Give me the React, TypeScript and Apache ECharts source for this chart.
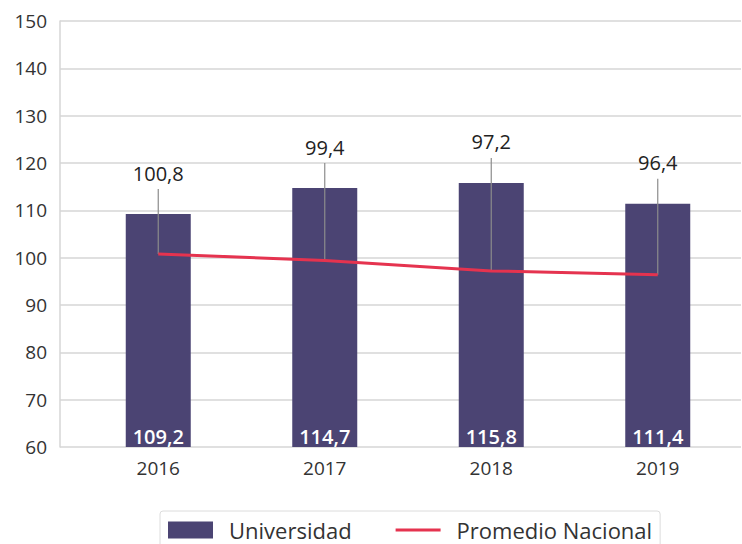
import React, { useEffect, useRef } from "react";
import * as echarts from "echarts";

const years = ["2016", "2017", "2018", "2019"];
const universidad = [109.2, 114.7, 115.8, 111.4];
const promedio = [100.8, 99.4, 97.2, 96.4];
const yTicks = { min: 60, max: 150, interval: 10 };

const FONT = "Open Sans";
const fmt = (v: number) => v.toFixed(1).replace(".", ",");

export default function App() {
  const ref = useRef<HTMLDivElement>(null);
  useEffect(() => {
    if (!ref.current) return;
    const chart = echarts.init(ref.current, null, { renderer: "svg" });
    const leaderData = years.map((_, i) => [i, promedio[i], universidad[i]]);
    chart.setOption({
      animation: false,
      textStyle: { fontFamily: FONT },
      grid: [
        { left: 60, right: 1, top: 21, bottom: 97 },
        { left: 75, right: 1, top: 21, bottom: 97 },
      ],
      xAxis: [
        { type: "value", gridIndex: 0, min: 0, max: 1, show: false },
        {
          type: "category",
          gridIndex: 1,
          data: years,
          axisLine: { show: false },
          axisTick: { show: false },
          axisLabel: { color: "#333", fontSize: 19, margin: 11, fontFamily: FONT },
        },
      ],
      yAxis: [
        {
          type: "value",
          gridIndex: 0,
          min: yTicks.min,
          max: yTicks.max,
          interval: yTicks.interval,
          axisLine: { show: true, lineStyle: { color: "#d6d6d6", width: 1.5 } },
          axisTick: { show: false },
          splitLine: { lineStyle: { color: "#d6d6d6", width: 1.5 } },
          axisLabel: { color: "#333", fontSize: 19, margin: 13, fontFamily: FONT },
        },
        {
          type: "value",
          gridIndex: 1,
          min: yTicks.min,
          max: yTicks.max,
          interval: yTicks.interval,
          show: false,
        },
      ],
      legend: {
        left: 160,
        top: 511,
        padding: [8, 8, 14, 8],
        borderColor: "#dcdcdc",
        borderWidth: 1,
        borderRadius: 3,
        itemWidth: 45,
        itemHeight: 17,
        itemGap: 44,
        textStyle: { color: "#333", fontSize: 22, fontFamily: FONT, padding: [0, 0, 0, 11] },
        data: [
          { name: "Universidad", icon: "rect" },
          {
            name: "Promedio Nacional",
            icon: "path://M0,0 M0,7 L45,7 L45,10 L0,10 Z M45,17",
          },
        ],
      },
      series: [
        {
          name: "Universidad",
          type: "bar",
          xAxisIndex: 1,
          yAxisIndex: 1,
          data: universidad,
          barWidth: 65,
          itemStyle: { color: "#4b4473" },
          label: {
            show: true,
            position: "insideBottom",
            distance: 1,
            color: "#fff",
            fontWeight: 600,
            fontSize: 20,
            fontFamily: FONT,
            formatter: (p: any) => fmt(p.value),
          },
          z: 2,
        },
        {
          name: "leaders",
          type: "custom",
          xAxisIndex: 1,
          yAxisIndex: 1,
          data: leaderData,
          encode: { x: 0, y: 1 },
          z: 3,
          renderItem: (params: any, api: any) => {
            const i = api.value(0);
            const p = api.coord([i, api.value(1)]);
            const b = api.coord([i, api.value(2)]);
            const labelY = b[1] - 41;
            return {
              type: "group",
              children: [
                {
                  type: "line",
                  shape: { x1: p[0], y1: p[1], x2: p[0], y2: labelY + 16 },
                  style: { stroke: "#8c8c8c", lineWidth: 1.2 },
                },
                {
                  type: "text",
                  x: p[0],
                  y: labelY,
                  style: {
                    text: fmt(api.value(1)),
                    fill: "#222",
                    font: `20px ${FONT}`,
                    textAlign: "center",
                    textVerticalAlign: "middle",
                  },
                },
              ],
            };
          },
        },
        {
          name: "Promedio Nacional",
          type: "line",
          xAxisIndex: 1,
          yAxisIndex: 1,
          data: promedio,
          symbol: "none",
          lineStyle: { color: "#e5334f", width: 3 },
          itemStyle: { color: "#e5334f" },
          z: 4,
        },
      ],
    });
    return () => chart.dispose();
  }, []);
  return <div ref={ref} style={{ width: 742, height: 544, position: "absolute", left: 0, top: 0 }} />;
}
